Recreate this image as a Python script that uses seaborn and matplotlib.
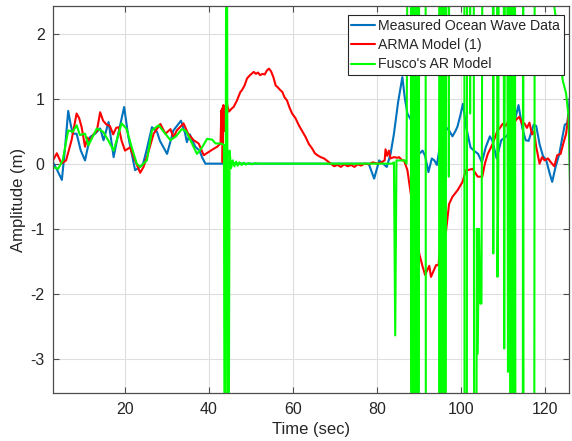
import matplotlib
matplotlib.use("Agg")
import matplotlib.pyplot as plt
import numpy as np
import pandas as pd
import seaborn as sns

# measured ocean wave data (time in sec, amplitude in m)
measured_t = [3.0, 4.0, 5.1, 5.8, 6.6, 7.2, 7.7, 8.6, 9.6, 10.6, 11.8, 13.0, 14.2,
              15.0, 16.2, 17.4, 18.5, 19.9, 20.9, 22.5, 23.7, 24.4, 25.2, 26.5,
              27.7, 28.4, 30.1, 31.6, 33.4, 34.4, 34.8, 35.5, 36.8, 37.8, 38.4,
              39.2, 78.0, 79.3, 80.5, 81.4, 82.3, 83.2, 84.0, 85.0, 86.0, 86.6,
              87.2, 87.8, 88.6, 89.6, 90.0, 90.8, 91.4, 92.2, 93.0, 93.6, 94.2,
              95.0, 95.9, 96.5, 97.1, 97.9, 98.6, 99.1, 99.8, 100.4, 101.2, 102.2,
              103.0, 104.0, 104.9, 105.8, 106.8, 107.4, 108.4, 109.5, 110.3, 111.2,
              112.2, 113.6, 114.5, 115.3, 116.0, 117.2, 117.8, 118.6, 119.4, 120.2,
              121.0, 121.6, 122.4, 123.3, 124.0, 124.6, 125.2, 125.8]
measured_y = [0.02, -0.1, -0.25, 0.2, 0.81, 0.6, 0.46, 0.46, 0.2, 0.05, 0.41, 0.46, 0.54,
              0.36, 0.64, 0.1, 0.46, 0.87, 0.41, -0.1, -0.05, 0.0, 0.2, 0.56,
              0.49, 0.35, 0.15, 0.51, 0.66, 0.46, 0.33, 0.45, 0.26, 0.2, 0.1,
              0.0, 0.0, -0.23, 0.05, 0.0, -0.05, 0.15, 0.46, 0.95, 1.33, 1.0,
              0.77, 0.7, 0.62, 0.4, 0.15, 0.2, 0.12, -0.13, 0.08, 0.05, -0.02,
              0.3, 0.46, 0.55, 0.51, 0.42, 0.5, 0.57, 0.75, 0.92, 0.55, 0.25,
              0.2, 0.15, 0.02, 0.25, 0.42, 0.35, 0.08, 0.36, 0.4, 0.45,
              0.52, 0.9, 0.55, 0.36, 0.35, 0.6, 0.58, 0.3, 0.12, 0.05,
              -0.15, -0.28, -0.05, 0.15, 0.4, 0.6, 0.62, 1.02]

# ARMA model (1)
arma_t = [3.0, 3.9, 5.0, 6.1, 7.4, 8.6, 9.2, 9.8, 10.6, 11.2, 11.8, 12.6, 13.4, 14.2,
          14.9, 15.7, 16.5, 17.3, 18.0, 18.6, 19.3, 20.1, 21.3, 22.5, 23.7, 24.5,
          25.3, 26.9, 28.5, 29.7, 30.9, 31.6, 32.4, 33.6, 34.0, 35.1, 36.4, 37.6,
          38.8, 40.0, 41.2, 42.0, 42.8, 43.0, 43.1, 43.2, 43.3, 43.5, 43.7, 44.0,
          44.3, 44.8, 45.5, 45.9, 46.7, 47.5, 47.9, 48.5, 49.1, 49.8, 50.7, 51.2,
          51.7, 52.2, 52.8, 53.3, 53.8, 54.3, 54.8, 55.4, 55.9, 56.3, 57.0, 57.5,
          58.0, 58.6, 59.2, 59.8, 60.6, 61.4, 62.2, 63.0, 63.8, 64.6, 65.2, 65.8,
          66.6, 67.4, 68.2, 69.0, 69.8, 70.6, 71.4, 72.2, 73.0, 73.8, 74.6, 75.4,
          76.2, 77.0, 78.0, 79.0, 80.0, 81.0, 81.8, 82.0, 82.4, 82.8, 83.2, 84.0,
          84.8, 85.2, 86.0, 86.4, 87.2, 88.0, 89.2, 90.0, 90.8, 91.4, 92.4, 92.8,
          94.0, 94.6, 95.1, 96.3, 97.1, 97.9, 99.1, 100.3, 101.1, 101.5, 102.7,
          103.9, 105.0, 105.6, 106.3, 107.5, 108.6, 109.2, 109.8, 110.5, 111.2,
          111.8, 112.5, 113.1, 113.8, 114.5, 115.0, 115.6, 116.2, 116.8, 117.3,
          117.8, 118.6, 119.2, 119.8, 120.6, 121.3, 122.1, 122.8, 123.6, 124.2,
          124.9, 125.5, 126.1]
arma_y = [0.05, 0.16, 0.0, 0.05, 0.36, 0.77, 0.7, 0.56, 0.26, 0.4, 0.35, 0.45, 0.5, 0.79,
          0.66, 0.6, 0.58, 0.45, 0.55, 0.56, 0.35, 0.2, 0.25, 0.05, -0.14, -0.05,
          0.1, 0.46, 0.61, 0.46, 0.53, 0.4, 0.51, 0.59, 0.62, 0.46, 0.36, 0.31,
          0.13, 0.18, 0.23, 0.26, 0.31, 0.82, 0.4, 0.85, 0.02, 0.9, 0.5, 0.6,
          0.92, 0.8, 0.85, 0.87, 0.97, 1.1, 1.13, 1.2, 1.31, 1.36, 1.41, 1.38,
          1.4, 1.36, 1.38, 1.37, 1.43, 1.46, 1.42, 1.32, 1.2, 1.18, 1.13, 1.1,
          1.02, 0.97, 0.86, 0.77, 0.7, 0.59, 0.5, 0.41, 0.3, 0.23, 0.16, 0.13,
          0.1, 0.08, 0.04, 0.0, -0.04, -0.02, -0.05, -0.01, -0.04, -0.02, -0.05, -0.01,
          -0.03, 0.0, -0.01, 0.02, 0.0, 0.02, 0.05, 0.22, 0.12, 0.2, 0.08, 0.1,
          0.09, 0.1, 0.05, 0.05, -0.1, -0.46, -0.97, -1.38, -1.58, -1.71, -1.57, -1.74,
          -1.56, -1.56, -1.18, -1.08, -0.62, -0.51, -0.41, -0.28, -0.1, -0.1, -0.08,
          -0.2, -0.2, 0.0, 0.15, 0.31, 0.51, 0.55, 0.61, 0.58, 0.65,
          0.69, 0.62, 0.68, 0.72, 0.6, 0.62, 0.55, 0.63, 0.45, 0.5,
          0.26, 0.0, 0.1, 0.05, 0.08, 0.02, -0.04, 0.13, 0.15, 0.3,
          0.46, 0.75, 0.87]

# Fusco's AR model
fusco_t = [3.0, 4.2, 5.3, 6.6, 7.7, 8.6, 9.4, 10.6, 11.4, 13.4, 14.9, 16.1, 17.4,
           19.3, 20.5, 21.7, 22.9, 23.7, 25.3, 26.5, 28.1, 29.3, 30.9, 32.2, 33.6,
           34.6, 36.0, 37.2, 38.4, 39.6, 40.8, 41.6, 42.8, 43.6, 43.85, 44.25, 44.6,
           44.95, 45.3, 45.7, 46.1, 46.5, 46.9, 47.3, 47.8, 48.3, 48.8, 49.5, 50.2,
           51.0, 52.0, 83.6, 84.0, 84.3, 84.6, 86.5, 87.0, 87.5, 88.0, 88.1, 88.4,
           88.5, 88.8, 88.9, 89.2, 89.3, 89.6, 89.7, 89.9, 90.0, 91.5, 91.6, 94.7,
           94.8, 95.1, 95.2, 95.5, 95.6, 95.9, 96.0, 96.3, 96.4, 96.9, 97.05, 97.2,
           100.7, 100.8, 101.3, 101.4, 101.9, 102.1, 102.3, 102.9, 103.1, 103.5,
           103.7, 103.9, 104.2, 104.5, 104.8, 105.2, 107.4, 107.6, 107.8, 108.4,
           108.6, 108.8, 109.0, 110.0, 110.2, 110.5, 110.8, 111.1, 111.3, 111.6,
           111.7, 111.9, 112.1, 112.3, 112.5, 112.7, 112.9, 114.6, 114.7, 114.8,
           117.3, 117.5, 121.8, 122.1, 123.3, 124.1, 124.9, 125.5, 125.9, 126.1]
fusco_y = [-0.05, -0.08, 0.05, 0.51, 0.49, 0.59, 0.44, 0.46, 0.28, 0.54, 0.49, 0.36, 0.2,
           0.62, 0.53, 0.25, 0.0, -0.05, 0.05, 0.51, 0.59, 0.49, 0.36, 0.42, 0.53,
           0.5, 0.31, 0.15, 0.25, 0.38, 0.37, 0.31, 0.31, 0.29, -8, 8, -8,
           0.2, -0.07, 0.05, -0.04, 0.03, -0.03, 0.02, -0.02, 0.015, -0.015, 0.01, -0.01,
           0.005, 0.0, 0.0, 0.02, -2.64, 0.05, 0.05, 0.0, 8, 8, -8, -8,
           8, 8, -8, -8, 8, 8, -8, -8, 8, 8, -8, -8,
           8, 8, -8, -8, 8, 8, -8, -8, 8, 8, -0.2, 8,
           8, -8, -8, 8, 8, 0.77, 8, 8, -8, -8,
           -1.0, -2.92, -1.0, -2.15, -2.15, 8, 8, -1.38, 8, 8,
           -1.74, -0.25, 8, 8, -2.84, 8, 8, -3.2, 8, 8,
           -8, 8, -8, 8, -8, 8, -8, -8, 8, -8,
           -8, 8, 8, 2.41, 1.85, 1.28, 1.08, 0.72, -0.56, -1.6]

series_names = ["Measured Ocean Wave Data", "ARMA Model (1)", "Fusco's AR Model"]
series_colors = ["#0072BD", "#FF0000", "#00FF00"]

x_ticks = [20, 40, 60, 80, 100, 120]
y_ticks = [-3, -2, -1, 0, 1, 2]

frames = []
for name, t, y in zip(series_names,
                      [measured_t, arma_t, fusco_t],
                      [measured_y, arma_y, fusco_y]):
    frames.append(pd.DataFrame({"t": t, "amp": y, "series": name}))
df = pd.concat(frames, ignore_index=True)

sns.set_theme(style="whitegrid")
plt.rcParams["font.family"] = ["Liberation Sans", "DejaVu Sans"]
plt.rcParams["axes.unicode_minus"] = False

fig = plt.figure(figsize=(5.72, 4.41), dpi=100)
ax = fig.add_axes([0.0927, 0.1095, 0.9021, 0.8765])

sns.lineplot(data=df, x="t", y="amp", hue="series", hue_order=series_names,
             palette=dict(zip(series_names, series_colors)),
             estimator=None, sort=False, linewidth=1.5, ax=ax)

ax.set_xlim(3, 125.6)
ax.set_ylim(-3.52, 2.42)
ax.set_xticks(x_ticks)
ax.set_yticks(y_ticks)
ax.set_xlabel("Time (sec)", fontsize=12, color="#262626", labelpad=3)
ax.set_ylabel("Amplitude (m)", fontsize=12, color="#262626", labelpad=3)

ax.grid(True, color="#dedede", linewidth=0.8)
for side in ["left", "right", "top", "bottom"]:
    ax.spines[side].set_visible(True)
    ax.spines[side].set_color("#4d4d4d")
    ax.spines[side].set_linewidth(0.9)
ax.tick_params(direction="in", length=4, width=0.8, colors="#4d4d4d",
               labelcolor="#262626", labelsize=11.5, top=True, right=True,
               bottom=True, left=True)
ax.tick_params(axis="x", pad=7)
ax.tick_params(axis="y", pad=6)

leg = ax.legend(loc="upper right", bbox_to_anchor=(0.9897, 0.9767), fontsize=10.2,
                frameon=True, fancybox=False, framealpha=1, edgecolor="#262626",
                handlelength=1.7, handletextpad=0.2, borderpad=0.25,
                labelspacing=0.38, borderaxespad=0.0)
leg.get_frame().set_linewidth(0.8)

fig.savefig("out.png", dpi=100)
